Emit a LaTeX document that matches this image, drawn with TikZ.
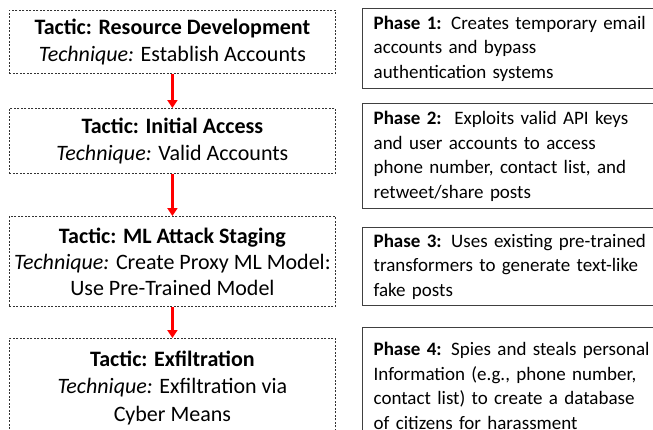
\documentclass[tikz,border=0pt]{standalone}
\usepackage{fontspec}
\setmainfont{Carlito}
\usetikzlibrary{arrows.meta}
\begin{document}
\begin{tikzpicture}[x=1pt,y=-1pt,
  tactic/.style={draw=black!80,line width=0.8pt,dash pattern=on 2pt off 1.5pt,
    anchor=north west,inner sep=0pt,align=center,minimum width=326pt,
    font=\fontsize{22}{27.5}\selectfont},
  phase/.style={draw=black!75,line width=1.3pt,anchor=north west,inner ysep=0pt,
    inner xsep=11pt,align=left,text width=280pt,
    font=\fontsize{19}{24.5}\selectfont},
  flow/.style={red,line width=2.8pt,-{Triangle[width=10pt,length=8pt]}}]
\useasboundingbox (0,0) rectangle (653,429);
\clip (0,0) rectangle (653,429);
% left boxes
\node[tactic,minimum height=63pt] (t1) at (9,10)
  {\textbf{Tactic: Resource Development}\\\textit{Technique:} Establish Accounts};
\node[tactic,minimum height=65pt] (t2) at (9,108)
  {\textbf{Tactic: Initial Access}\\\textit{Technique:} Valid Accounts};
\node[tactic,minimum height=90pt,font=\fontsize{22}{26}\selectfont] (t3) at (9,216)
  {\textbf{Tactic: ML Attack Staging}\\\textit{Technique:} Create Proxy ML Model:\\Use Pre-Trained Model};
\node[tactic,minimum height=99pt] (t4) at (9,338)
  {\textbf{Tactic: Exfiltration}\\\textit{Technique:} Exfiltration via\\Cyber Means};
% arrows
\draw[flow] (t1.south) -- (t2.north);
\draw[flow] (t2.south) -- (t3.north);
\draw[flow] (t3.south) -- (t4.north);
% right boxes
\node[phase,minimum height=80pt] (p1) at (362,8)
  {\textbf{Phase 1:} Creates temporary email\\accounts and bypass\\authentication systems};
\node[phase,minimum height=105pt] (p2) at (362,103)
  {\textbf{Phase 2:}\ \ Exploits valid API keys\\and user accounts to access\\phone number, contact list, and\\retweet/share posts};
\node[phase,minimum height=78pt] (p3) at (362,227)
  {\textbf{Phase 3:} Uses existing pre-trained\\transformers to generate text-like\\fake posts};
\node[phase,minimum height=116pt] (p4) at (362,327)
  {\textbf{Phase 4:} Spies and steals personal\\Information (e.g., phone number,\\contact list) to create a database\\of citizens for harassment};
\end{tikzpicture}
\end{document}
